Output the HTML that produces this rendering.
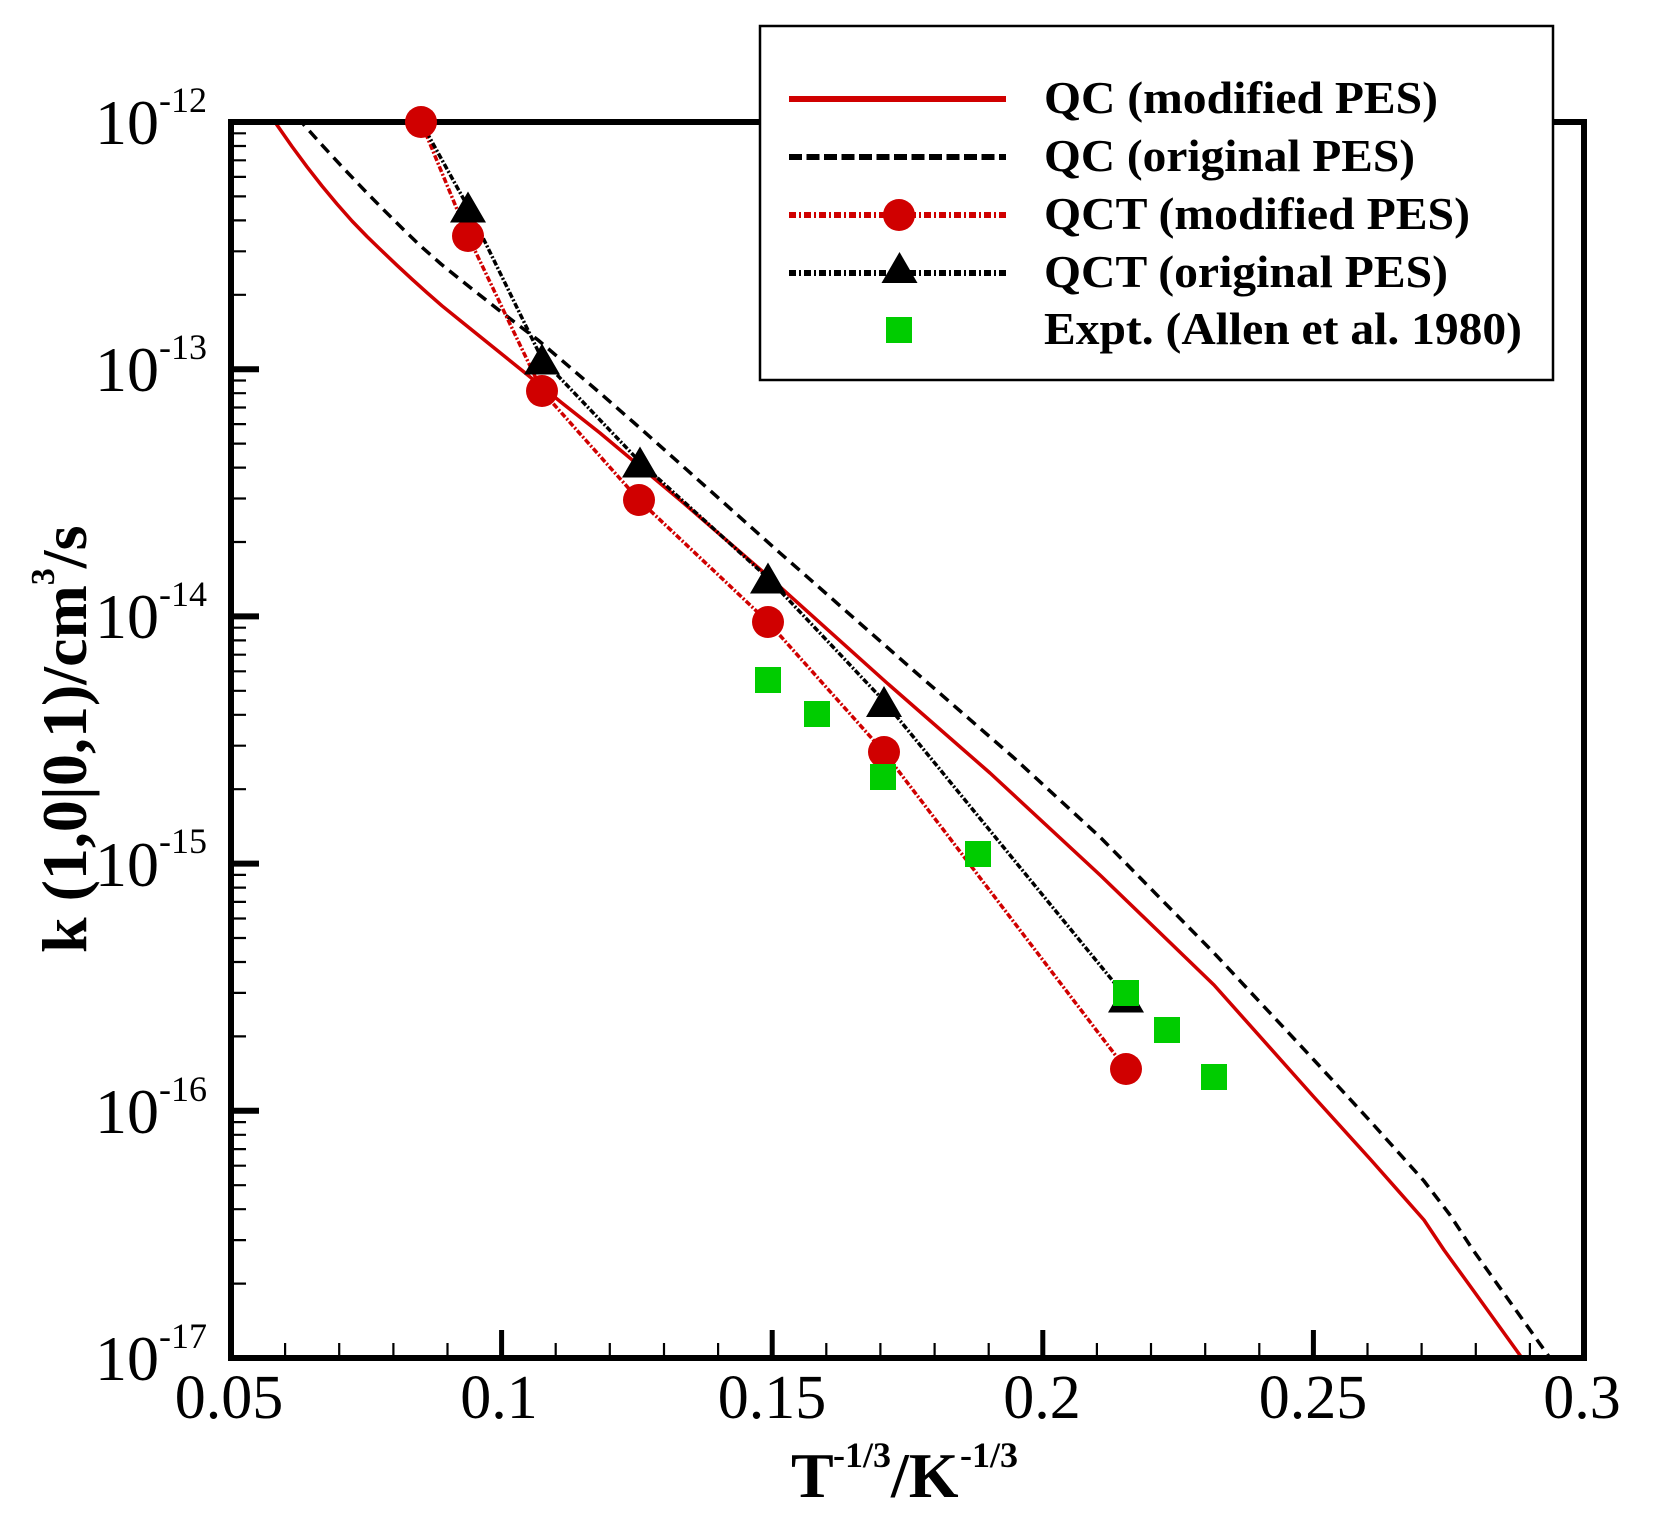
<!DOCTYPE html>
<html><head><meta charset="utf-8"><style>
html,body{margin:0;padding:0;background:#fff;}
svg{display:block;}
text{font-family:"Liberation Serif","Times New Roman",serif;}
</style></head><body>
<svg width="1653" height="1539" viewBox="0 0 1653 1539" xmlns="http://www.w3.org/2000/svg">
<defs><clipPath id="pa"><rect x="231" y="122" width="1353" height="1236"/></clipPath></defs>
<rect width="1653" height="1539" fill="#fff"/>

<g clip-path="url(#pa)" fill="none" stroke-linejoin="round">
<polyline stroke="#d00000" stroke-width="3.5" points="270,114 277,125 292,146.5 307,166.8 322,186 337,204 352,221 367,236.5 382,251 397,265.3 412,279.2 427,292.7 442,305.8 462,322 493,347 524,372 562,403 600,433 680,500 769,577 887,683 990,773 1100,875 1214,985 1313,1096 1371,1160 1424,1220 1444,1250 1473,1290 1522,1358 1525,1364"/>
<polyline stroke="#000" stroke-width="3.5" stroke-dasharray="11 7" points="298,117 304,125 324,147.2 344,168.8 364,189.8 384,210.2 404,230 420,245.5 441,264 462,281 500,311 538,340 600,393 640,428 780,553 913,670 1013,757 1100,837 1214,953 1313,1059 1371,1122 1424,1181 1450,1215 1473,1250 1550,1358 1553,1364"/>
<polyline stroke="#d00000" stroke-width="3.5" stroke-dasharray="6 2 2 2" points="421,122 468,236 542,391 639,500 768,622 884,752 1126,1069"/>
<polyline stroke="#000" stroke-width="3.5" stroke-dasharray="6 2 2 2" points="421,122 468,207 542,359 640,462 768,578 884,701 1126,997"/>
</g>

<!-- frame -->
<rect x="231" y="122" width="1353" height="1236" fill="none" stroke="#000" stroke-width="6"/>

<!-- y ticks -->
<path stroke="#000" stroke-width="6" fill="none" d="M231 369.2H259M231 616.4H259M231 863.6H259M231 1110.8H259"/>
<path stroke="#000" stroke-width="2.2" fill="none" d="
M231 294.8H246M231 251.3H246M231 220.4H246M231 196.4H246M231 176.9H246M231 160.3H246M231 146H246M231 133.3H246
M231 542H246M231 498.5H246M231 467.6H246M231 443.6H246M231 424.1H246M231 407.5H246M231 393.2H246M231 380.5H246
M231 789.2H246M231 745.7H246M231 714.8H246M231 690.8H246M231 671.3H246M231 654.7H246M231 640.4H246M231 627.7H246
M231 1036.4H246M231 992.9H246M231 962H246M231 938H246M231 918.5H246M231 901.9H246M231 887.6H246M231 874.9H246
M231 1283.6H246M231 1240.1H246M231 1209.2H246M231 1185.2H246M231 1165.7H246M231 1149.1H246M231 1134.8H246M231 1122.1H246"/>

<!-- x ticks -->
<path stroke="#000" stroke-width="5" fill="none" d="M501.6 1358V1330M772.2 1358V1330M1042.8 1358V1330M1313.4 1358V1330"/>
<path stroke="#000" stroke-width="2.2" fill="none" d="M285.1 1358V1343M339.2 1358V1343M393.4 1358V1343M447.5 1358V1343M555.7 1358V1343M609.8 1358V1343M664 1358V1343M718.1 1358V1343M826.3 1358V1343M880.4 1358V1343M934.6 1358V1343M988.7 1358V1343M1096.9 1358V1343M1151 1358V1343M1205.2 1358V1343M1259.3 1358V1343M1367.5 1358V1343M1421.6 1358V1343M1475.8 1358V1343M1529.9 1358V1343"/>

<!-- y tick labels -->
<g fill="#000">
<text x="159" y="144" font-size="64" text-anchor="end">10</text><text x="159" y="112" font-size="36">-12</text>
<text x="159" y="391" font-size="64" text-anchor="end">10</text><text x="159" y="359" font-size="36">-13</text>
<text x="159" y="638" font-size="64" text-anchor="end">10</text><text x="159" y="606" font-size="36">-14</text>
<text x="159" y="886" font-size="64" text-anchor="end">10</text><text x="159" y="853" font-size="36">-15</text>
<text x="159" y="1133" font-size="64" text-anchor="end">10</text><text x="159" y="1101" font-size="36">-16</text>
<text x="159" y="1380" font-size="64" text-anchor="end">10</text><text x="159" y="1348" font-size="36">-17</text>
</g>

<!-- x tick labels -->
<g fill="#000" font-size="62" text-anchor="middle">
<text x="229" y="1418">0.05</text>
<text x="499" y="1418">0.1</text>
<text x="772" y="1418">0.15</text>
<text x="1042" y="1418">0.2</text>
<text x="1313" y="1418">0.25</text>
<text x="1582" y="1418">0.3</text>
</g>

<!-- x title -->
<g fill="#000" font-weight="bold">
<text x="791" y="1497" font-size="64">T</text>
<text x="833" y="1467" font-size="36">-1/3</text>
<text x="891" y="1497" font-size="64">/K</text>
<text x="960" y="1467" font-size="36">-1/3</text>
</g>

<!-- y title -->
<g transform="translate(86,953) rotate(-90)" fill="#000" font-weight="bold">
<text x="0" y="0" font-size="64">k (1,0|0,1)/cm<tspan font-size="34" dy="-32">3</tspan><tspan dy="32" font-size="64">/s</tspan></text>
</g>

<!-- markers: circles -->
<g fill="#d00000">
<circle cx="421" cy="122" r="16"/><circle cx="468" cy="236" r="16"/><circle cx="542" cy="391" r="16"/>
<circle cx="639" cy="500" r="16"/><circle cx="768" cy="622" r="16"/><circle cx="884" cy="752" r="16"/>
<circle cx="1126" cy="1069" r="16"/>
</g>
<!-- triangles -->
<g fill="#000">
<polygon points="468,191.5 450,222.5 486,222.5"/>
<polygon points="542,343.5 524,374.5 560,374.5"/>
<polygon points="640,446.5 622,477.5 658,477.5"/>
<polygon points="768,562.5 750,593.5 786,593.5"/>
<polygon points="884,686 866,717 902,717"/>
<polygon points="1126,981.5 1108,1012.5 1144,1012.5"/>
</g>
<!-- squares -->
<g fill="#00cc00">
<rect x="755" y="667" width="26" height="26"/>
<rect x="804" y="701" width="26" height="26"/>
<rect x="870" y="764" width="26" height="26"/>
<rect x="965" y="841" width="26" height="26"/>
<rect x="1113" y="980" width="26" height="26"/>
<rect x="1154" y="1017" width="26" height="26"/>
<rect x="1201" y="1064" width="26" height="26"/>
</g>

<!-- legend -->
<rect x="760" y="26" width="793" height="354" fill="#fff" stroke="#000" stroke-width="2.5"/>
<line x1="789" y1="99" x2="1006" y2="99" stroke="#d00000" stroke-width="6"/>
<line x1="789" y1="157" x2="1006" y2="157" stroke="#000" stroke-width="6" stroke-dasharray="13 4.5"/>
<line x1="789" y1="215" x2="1006" y2="215" stroke="#d00000" stroke-width="6" stroke-dasharray="7 3 2 3"/>
<circle cx="899" cy="215" r="16" fill="#d00000"/>
<line x1="789" y1="273" x2="1006" y2="273" stroke="#000" stroke-width="6" stroke-dasharray="7 3 2 3"/>
<polygon points="899.5,252 881.5,283 917.5,283" fill="#000"/>
<rect x="886" y="317" width="26" height="26" fill="#00cc00"/>
<g fill="#000" font-weight="bold" font-size="46">
<text x="1044" y="113" textLength="394" lengthAdjust="spacingAndGlyphs">QC (modified PES)</text>
<text x="1044" y="171" textLength="371" lengthAdjust="spacingAndGlyphs">QC (original PES)</text>
<text x="1044" y="229" textLength="426" lengthAdjust="spacingAndGlyphs">QCT (modified PES)</text>
<text x="1044" y="287" textLength="404" lengthAdjust="spacingAndGlyphs">QCT (original PES)</text>
<text x="1044" y="344" textLength="478" lengthAdjust="spacingAndGlyphs">Expt. (Allen et al. 1980)</text>
</g>
</svg>
</body></html>
